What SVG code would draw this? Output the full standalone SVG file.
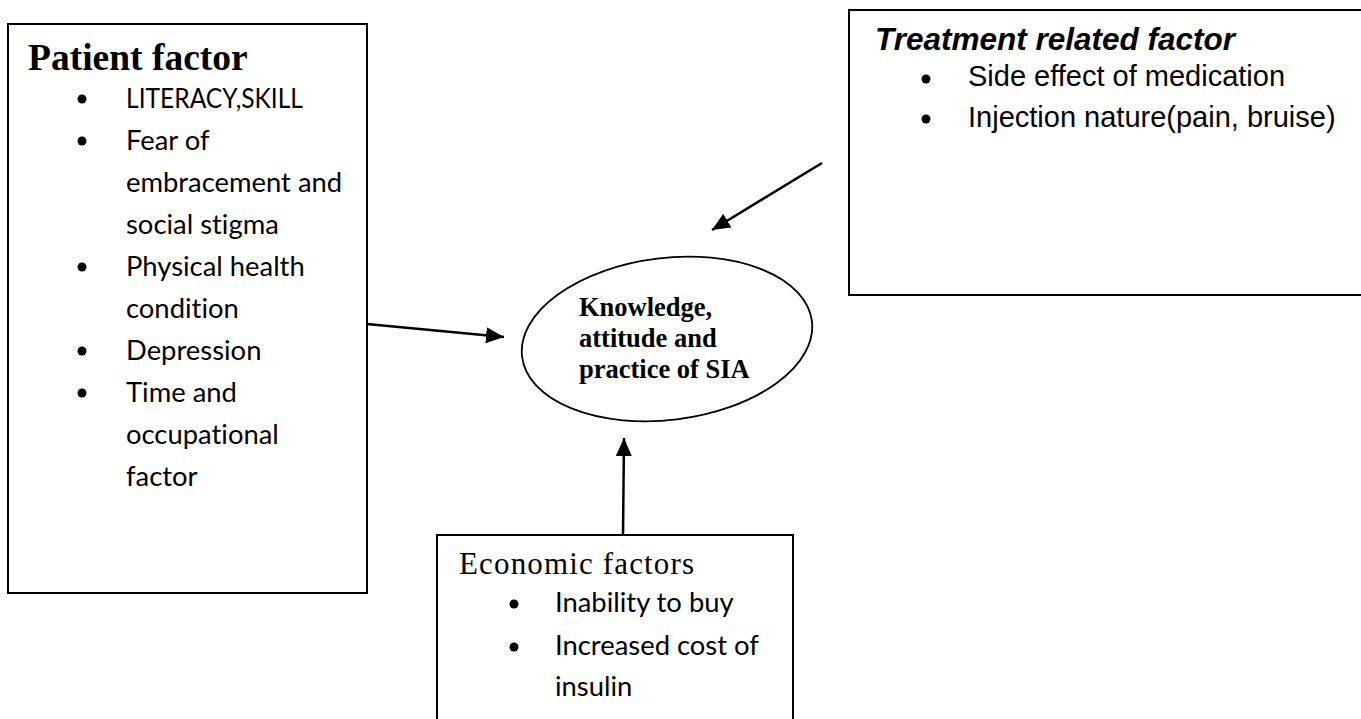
<svg xmlns="http://www.w3.org/2000/svg" width="1361" height="719" viewBox="0 0 1361 719">
<defs>
<style>
.box{fill:#fff;stroke:#000;stroke-width:2}
.cal{font-family:Lato,"Open Sans",sans-serif;font-size:27.4px;fill:#000;font-variant-ligatures:none}
.ari{font-family:"Liberation Sans",Arial,sans-serif;font-size:29px;fill:#000}
.edge{stroke:#000;stroke-width:2.5;fill:none}
.dot{fill:#000}
</style>
<marker id="ah" markerUnits="userSpaceOnUse" markerWidth="20" markerHeight="16" refX="18" refY="8" orient="auto">
<path d="M0,0 L18,8 L0,16 Z" fill="#000"/>
</marker>
</defs>
<rect width="1361" height="719" fill="#fff"/>
<g id="patient">
<rect class="box" x="8" y="24" width="359" height="569"/>
<text x="28" y="70" font-family="Liberation Serif,Times New Roman,serif" font-weight="bold" font-size="37.5">Patient factor</text>
<circle class="dot" cx="82" cy="99" r="4.5"/>
<circle class="dot" cx="82" cy="141" r="4.5"/>
<circle class="dot" cx="82" cy="267" r="4.5"/>
<circle class="dot" cx="82" cy="351" r="4.5"/>
<circle class="dot" cx="82" cy="393" r="4.5"/>
<text class="cal" x="126" y="108" textLength="177" lengthAdjust="spacingAndGlyphs">LITERACY,SKILL</text>
<text class="cal" x="126" y="150">Fear of</text>
<text class="cal" x="126" y="192">embracement and</text>
<text class="cal" x="126" y="234">social stigma</text>
<text class="cal" x="126" y="276">Physical health</text>
<text class="cal" x="126" y="318">condition</text>
<text class="cal" x="126" y="360">Depression</text>
<text class="cal" x="126" y="402">Time and</text>
<text class="cal" x="126" y="444">occupational</text>
<text class="cal" x="126" y="486">factor</text>
</g>
<g id="treatment">
<rect class="box" x="849" y="10" width="530" height="285"/>
<text x="875" y="50" font-family="Liberation Sans,Arial,sans-serif" font-weight="bold" font-style="italic" font-size="31.5">Treatment related factor</text>
<circle class="dot" cx="926" cy="79" r="4.5"/>
<circle class="dot" cx="926" cy="119" r="4.5"/>
<text class="ari" x="968" y="86">Side effect of medication</text>
<text class="ari" x="968" y="127">Injection nature(pain, bruise)</text>
</g>
<g id="center">
<ellipse cx="667" cy="339" rx="146" ry="81" transform="rotate(-7 667 339)" fill="#fff" stroke="#000" stroke-width="1.8"/>
<g font-family="Liberation Serif,Times New Roman,serif" font-weight="bold" font-size="26.5">
<text x="579" y="316">Knowledge,</text>
<text x="579" y="347">attitude and</text>
<text x="579" y="378">practice of SIA</text>
</g>
</g>
<g id="economic">
<rect class="box" x="437" y="535" width="356" height="200"/>
<text x="459" y="574" font-family="Liberation Serif,Times New Roman,serif" font-size="31" textLength="235" lengthAdjust="spacing">Economic factors</text>
<circle class="dot" cx="514" cy="604" r="4.5"/>
<circle class="dot" cx="514" cy="647" r="4.5"/>
<text class="cal" x="555" y="612">Inability to buy</text>
<text class="cal" x="555" y="655">Increased cost of</text>
<text class="cal" x="555" y="696">insulin</text>
</g>
<g id="connectors">
<line class="edge" x1="367" y1="324" x2="504" y2="337" marker-end="url(#ah)"/>
<line class="edge" x1="822" y1="163" x2="712" y2="230" marker-end="url(#ah)"/>
<line class="edge" x1="623" y1="535" x2="624" y2="438" marker-end="url(#ah)"/>
</g>
</svg>
